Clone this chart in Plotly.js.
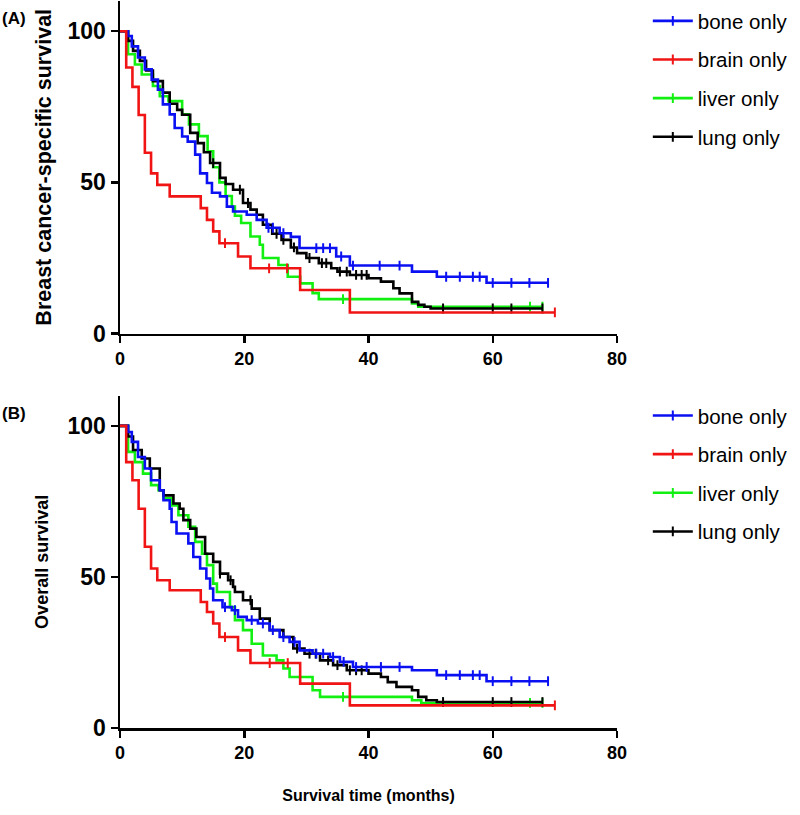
<!DOCTYPE html>
<html><head><meta charset="utf-8">
<script src="https://cdn.plot.ly/plotly-3.0.1.min.js"></script>
<style>body{margin:0;background:#fff}#chart{width:800px;height:815px}</style>
</head><body><div id="chart"></div>
<script>
// ---------- data ----------
const groupNames = ['bone only', 'brain only', 'liver only', 'lung only'];
const yTickVals = [0, 50, 100];
const xTickVals = [0, 20, 40, 60, 80];

// Panel A: breast cancer-specific survival (months, %)
const boneA_t = [0,1.3,1.9,2.9,4.0,5.1,6.1,6.9,8.0,8.8,10,10.9,12.1,12.9,14,14.8,16.1,17.2,18.2,20.4,22,23.6,25.7,27.5,28.9,34.8,37,47,51,59];
const boneA_s = [100,98.4,95,91.3,87.4,84,80.7,75.8,72.5,68,65.2,63.5,59.2,53,49.8,46.6,45.4,42,40.4,39.3,37.6,35,33.2,32,28.3,25.5,22.5,20.5,18.8,16.8];
const boneA_c = [23.9,24.6,26.3,31.6,32.7,33.8,35.6,37.5,41.8,45,52.5,54.7,56.8,57.9,60,63,65.9,68.9];

const brainA_t = [0,1,2,3,4,5,6,8,13,14,15,16,19,21,29,37];
const brainA_s = [100,88,81.6,72.3,59.8,53,49.2,45.4,41.5,37.6,33.8,29.9,25.5,21.6,14.4,7];
const brainA_c = [16.9,24,26.9,70];

const liverA_t = [0,1.3,2.4,3.5,5.3,6.4,7.8,10,11.1,12.7,14.1,15,16,17,18,18.5,19.5,21,22.5,23,25.5,27,29,31,32,47,48];
const liverA_s = [100,92.4,89,85.7,81.9,78.5,76.9,72.5,69.2,65.3,60.3,55,50,45.5,42,39,36.6,32.1,29.4,25,22.7,18.8,16.6,13.4,11.4,10,8.9];
const liverA_c = [35.9,66,68];

const lungA_t = [0,1.3,2.1,3.2,4.2,5.3,6.9,8,9.2,10,11.3,12.5,13.5,14.5,16.1,17,18.2,19.8,21,22,23,24.5,26,27.5,28.5,30,32,34,35,37,40,42,44,45,47,48,49,50];
const lungA_s = [100,96.8,93.5,90.2,87,83.5,79.7,76,74,72.4,66.4,63,60,56.4,51.5,49.5,47.6,43.2,41,39.3,36,33,31,28.5,26.6,25,23.3,21.6,20.5,19.4,18.3,17.2,15,13.3,10.5,9.5,8.9,8.3];
const lungA_c = [15,19.3,20.6,25.2,26.3,28,30.5,32.5,33.2,35.4,36.5,38,38.9,39.7,52,60,63,68];

// Panel B: overall survival (months, %)
const boneB_t = [0,1.3,1.9,2.9,4,5,6.4,7,8,8.3,9.1,11,11.8,12.9,13.9,14.5,15,16.5,18,19,20.4,22.2,24.1,25.7,27.3,28.9,31,33.8,35.4,37.5,47,51,59];
const boneB_s = [100,98,94.7,89.7,85.9,82,78.7,75.4,72.6,68.2,64.4,61.1,56.6,52.8,49.5,46.2,42.3,40,39,36.8,35.7,34.6,32.4,30.1,28.5,25.7,24.6,23.5,21.9,20.2,19.1,17.5,15.5];
const boneB_c = [16.9,18.5,21.2,23,24.6,26.3,28.1,31.6,32.7,34.3,36,38,39.7,42,45,52.5,54.7,56.8,57.9,60,63,65.9,68.9];

const brainB_t = [0,1,2,3,4,5,6,8,13,14,15,16,19,21,29,37];
const brainB_s = [100,88,82,72.6,60,52.8,48.9,45.6,41.7,38.4,34.6,30.1,25.7,21.5,14.7,7.5];
const brainB_c = [16.9,24.1,27,70];

const liverB_t = [0,1.3,2.4,3.7,5,6.2,7,8.3,9.4,11,12.1,13.2,14,15,15.6,17.7,18.5,19.8,21.2,23,25.2,26.3,27.3,31,32.2,47,48.5];
const liverB_s = [100,91.4,88,84.2,80.4,78.7,76,73.7,70.4,66.6,61.6,57.7,53.9,47.8,45,40,35.7,32.4,27.9,24,22.4,19.7,16.9,12.5,10.3,9.2,8.3];
const liverB_c = [35.9,66,68];

const lungB_t = [0,1.3,2.1,3.5,4.8,6.4,7,8.6,9.6,10.2,11.3,12.3,13.7,15,16.1,17.4,18.2,18.5,19.8,21.2,22.5,24.1,26.3,27.9,29.7,32.2,34.3,36.5,40,42,43.1,44.5,47,48,49.3,51];
const lungB_s = [100,96.5,92,89.2,85.9,78.7,77,74.3,72.6,68.8,66,63.2,57.7,55,51.1,48.9,46.7,45,42.3,39.5,36.2,32.4,30.1,26.3,24.6,22.4,20.8,19.1,18,16.9,15.2,13.6,12.5,10.3,9.2,8.6];
const lungB_c = [16.1,17.8,21,28.5,30.5,31.5,33.5,35,37,38,38.9,52,60,63,68];

// ---------- build ----------
const FONT = 'Arial, "Liberation Sans", sans-serif';
const colors = ['#0a10f2', '#f01414', '#12f012', '#000000'];

function merge(t, s, c) {
  const x = [], y = [], sel = [];
  const cs = c.slice().sort((a, b) => a - b);
  let i = 0, j = 0;
  while (i < t.length || j < cs.length) {
    if (j >= cs.length || (i < t.length && t[i] <= cs[j])) {
      x.push(t[i]); y.push(s[i]); i++;
    } else {
      x.push(cs[j]); y.push(y.length ? y[y.length - 1] : s[0]); sel.push(x.length - 1); j++;
    }
  }
  return {x, y, sel};
}

const panels = [
  {series: [[boneA_t, boneA_s, boneA_c], [brainA_t, brainA_s, brainA_c], [liverA_t, liverA_s, liverA_c], [lungA_t, lungA_s, lungA_c]], xa: 'x', ya: 'y', legend: 'legend'},
  {series: [[boneB_t, boneB_s, boneB_c], [brainB_t, brainB_s, brainB_c], [liverB_t, liverB_s, liverB_c], [lungB_t, lungB_s, lungB_c]], xa: 'x2', ya: 'y2', legend: 'legend2'}
];
const drawOrder = [2, 3, 0, 1];
const traces = [];
panels.forEach((p, pi) => {
  drawOrder.forEach(k => {
    const m = merge(p.series[k][0], p.series[k][1], p.series[k][2]);
    traces.push({
      type: 'scatter', mode: 'lines+markers',
      x: m.x, y: m.y, xaxis: p.xa, yaxis: p.ya,
      name: groupNames[k], legend: p.legend, legendgroup: groupNames[k] + pi, legendrank: k + 1,
      line: {shape: 'hv', color: colors[k], width: 2.6},
      marker: {symbol: 'line-ns-open', size: 7, color: colors[k], line: {width: 2, color: colors[k]}},
      selectedpoints: m.sel,
      selected: {marker: {opacity: 1}},
      unselected: {marker: {opacity: 0}},
      hoverinfo: 'skip'
    });
  });
});

const xAxisBase = {
  range: [0, 80], tickvals: xTickVals, ticks: 'outside', ticklen: 7, tickwidth: 2.5, tickcolor: '#000',
  showline: true, linewidth: 2.5, linecolor: '#000', showgrid: false, zeroline: false,
  tickfont: {family: FONT, size: 18, color: '#000', weight: 'bold'}, fixedrange: true
};
const yAxisBase = {
  range: [0, 110], tickvals: yTickVals, ticks: 'outside', ticklen: 7, tickwidth: 2.5, tickcolor: '#000',
  showline: true, linewidth: 2.5, linecolor: '#000', showgrid: false, zeroline: false,
  tickfont: {family: FONT, size: 23, color: '#000', weight: 'bold'}, fixedrange: true
};
const legendBase = {
  xanchor: 'left', yanchor: 'top', x: 1.062, itemwidth: 40,
  font: {family: FONT, size: 20.5, color: '#000'}, bgcolor: 'rgba(0,0,0,0)',
  tracegroupgap: 9, traceorder: 'grouped'
};

const layout = {
  width: 800, height: 815,
  margin: {l: 120, r: 183, t: 1, b: 87},
  paper_bgcolor: '#fff', plot_bgcolor: '#fff',
  showlegend: true,
  font: {family: FONT, color: '#000'},
  xaxis: Object.assign({}, xAxisBase, {anchor: 'y', domain: [0, 1]}),
  yaxis: Object.assign({}, yAxisBase, {anchor: 'x', domain: [0.5425, 1],
    title: {text: 'Breast cancer-specific survival', font: {family: FONT, size: 21.5, weight: 'bold'}, standoff: 10}}),
  xaxis2: Object.assign({}, xAxisBase, {anchor: 'y2', domain: [0, 1],
    title: {text: 'Survival time (months)', font: {family: FONT, size: 16, weight: 'bold'}, standoff: 28}}),
  yaxis2: Object.assign({}, yAxisBase, {anchor: 'x2', domain: [0, 0.4571],
    title: {text: 'Overall survival', font: {family: FONT, size: 18, weight: 'bold'}, standoff: 14}}),
  legend: Object.assign({}, legendBase, {y: 1}),
  legend2: Object.assign({}, legendBase, {y: 0.4571}),
  annotations: [
    {text: '(A)', xref: 'paper', yref: 'paper', x: -0.2413, y: 0.9766, xanchor: 'left', yanchor: 'middle', showarrow: false, font: {family: FONT, size: 17, weight: 'bold'}},
    {text: '(B)', xref: 'paper', yref: 'paper', x: -0.2413, y: 0.433, xanchor: 'left', yanchor: 'middle', showarrow: false, font: {family: FONT, size: 17, weight: 'bold'}}
  ]
};

Plotly.newPlot('chart', traces, layout, {displayModeBar: false, staticPlot: true});
</script>
</body></html>
